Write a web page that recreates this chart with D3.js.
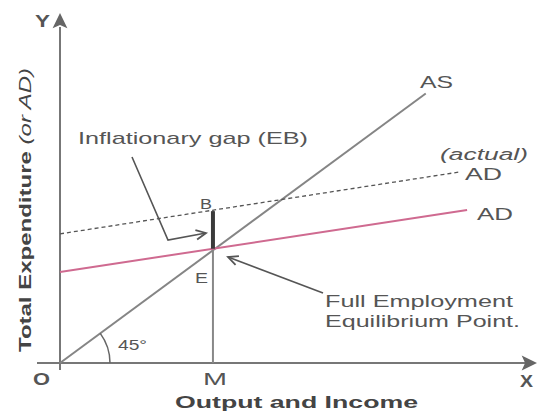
<!DOCTYPE html>
<html><head><meta charset="utf-8">
<script src="https://cdn.jsdelivr.net/npm/d3@7/dist/d3.min.js"></script>
<style>body{margin:0;background:#fff}svg{display:block}text{font-family:"Liberation Sans",Arial,sans-serif}</style>
</head><body><svg id="c" width="539" height="414"></svg>
<script>
// ---- data (abstract units, 0..100) ----
const asLine = [[0, 0], [77, 77]];              // 45° aggregate supply line
const adLine = [[0, 26], [85.7, 43.7]];         // AD (full employment)
const adActual = [[0, 36.9], [84.2, 54.6]];     // AD (actual)
const fullEmpOutput = 32.2;                     // M
const angleLabel = "45°";

const svg = d3.select("#c");
const x = d3.scaleLinear().domain([0, 100]).range([60, 535]);
const y = d3.scaleLinear().domain([0, 100]).range([363, 13]);
const line = d3.line().x(d => x(d[0])).y(d => y(d[1]));
const at = (seg, xv) => seg[0][1] + (seg[1][1]-seg[0][1])*(xv-seg[0][0])/(seg[1][0]-seg[0][0]);

function head(x1, y1, x2, y2, len, open) {
  const a = Math.atan2(y2-y1, x2-x1), w = 0.45;
  const p1 = [x2 - len*Math.cos(a-w), y2 - len*Math.sin(a-w)];
  const p2 = [x2 - len*Math.cos(a+w), y2 - len*Math.sin(a+w)];
  if (open) return `M${p1} L${x2},${y2} L${p2}`;
  const m = [x2 - len*0.7*Math.cos(a), y2 - len*0.7*Math.sin(a)];
  return `M${x2},${y2} L${p1} L${m} L${p2} Z`;
}

// axes
svg.append("line").attr("x1",x(0)).attr("x2",x(0)).attr("y1",370).attr("y2",y(96))
  .attr("stroke","#777").attr("stroke-width",2);
svg.append("path").attr("d",head(x(0), 200, x(0), 13, 17, false)).attr("fill","#666");
svg.append("line").attr("x1",37).attr("x2",x(98)).attr("y1",y(0)).attr("y2",y(0))
  .attr("stroke","#777").attr("stroke-width",2);
svg.append("path").attr("d",head(300, y(0), 537, y(0), 17, false)).attr("fill","#666");

const eY = at(adLine, fullEmpOutput), bY = at(adActual, fullEmpOutput);

// vertical M line
svg.append("line").attr("x1",x(fullEmpOutput)).attr("x2",x(fullEmpOutput)).attr("y1",y(0)).attr("y2",y(bY))
  .attr("stroke","#888").attr("stroke-width",2);
// AS
svg.append("path").attr("d",line(asLine)).attr("stroke","#858585").attr("stroke-width",2).attr("fill","none");
// AD actual dashed
svg.append("path").attr("d",line(adActual)).attr("stroke","#555").attr("stroke-width",1.3)
  .attr("stroke-dasharray","4,3").attr("fill","none");
// AD pink
svg.append("path").attr("d",line(adLine)).attr("stroke","#cf6a90").attr("stroke-width",2).attr("fill","none");
// gap bar
svg.append("line").attr("x1",x(fullEmpOutput)).attr("x2",x(fullEmpOutput)).attr("y1",y(bY)+1).attr("y2",y(eY))
  .attr("stroke","#3a3a3a").attr("stroke-width",4);

// 45 degree arc
const arc = d3.arc().innerRadius(50).outerRadius(50).startAngle(Math.PI/2 - Math.atan2(y(0)-y(asLine[1][1]), x(asLine[1][0])-x(0))).endAngle(Math.PI/2);
svg.append("path").attr("d",arc()).attr("transform",`translate(${x(0)},${y(0)})`)
  .attr("stroke","#666").attr("stroke-width",1.5).attr("fill","none");

// annotation arrows
svg.append("path").attr("d","M132,157 L168,240 L206,233").attr("stroke","#555").attr("stroke-width",1.6).attr("fill","none");
svg.append("path").attr("d",head(168,240,206,233,11,true)).attr("stroke","#555").attr("stroke-width",1.8).attr("fill","none");
svg.append("path").attr("d","M323,293 L228,257").attr("stroke","#555").attr("stroke-width",1.6).attr("fill","none");
svg.append("path").attr("d",head(323,293,228,257,11,true)).attr("stroke","#555").attr("stroke-width",1.8).attr("fill","none");

// labels
function t(str, xx, yy, len, opts={}) {
  const el = svg.append("text").attr("x",xx).attr("y",yy).text(str)
    .attr("font-size",opts.size||16).attr("fill",opts.fill||"#555")
    .attr("font-weight",opts.weight||"normal").attr("font-style",opts.style||"normal");
  if (len) el.attr("textLength",len).attr("lengthAdjust","spacingAndGlyphs");
  return el;
}
t("Inflationary gap (EB)", 78, 144, 230, {size:17});
t("AS", 420, 88, 33, {size:17});
t("(actual)", 440, 160, 88, {size:16, style:"italic"});
t("AD", 465, 180, 37, {size:17});
t("AD", 477, 220, 36, {size:17});
t("Full Employment", 325, 307, 188, {size:17});
t("Equilibrium Point.", 325, 327, 195, {size:17});
t("B", 200, 209, 12, {size:15});
t("E", 195, 283, 13, {size:15});
t(angleLabel, 118, 350, 29, {size:14});
t("O", 33, 385, 17, {size:17, weight:"bold"});
t("M", 203, 385, 24, {size:16});
t("X", 520, 387, 13, {size:16, weight:"bold"});
t("Y", 35, 27, 15, {size:17, weight:"bold"});
t("Output and Income", 175, 408, 243, {size:17, weight:"bold", fill:"#444"});

const yl = svg.append("text").attr("transform","translate(31,352) rotate(-90)")
  .attr("font-size",17).attr("fill","#444").attr("font-weight","bold")
  .attr("textLength",284).attr("lengthAdjust","spacingAndGlyphs");
yl.append("tspan").text("Total Expenditure ");
yl.append("tspan").attr("font-style","italic").attr("font-weight","normal").text("(or AD)");
</script></body></html>
